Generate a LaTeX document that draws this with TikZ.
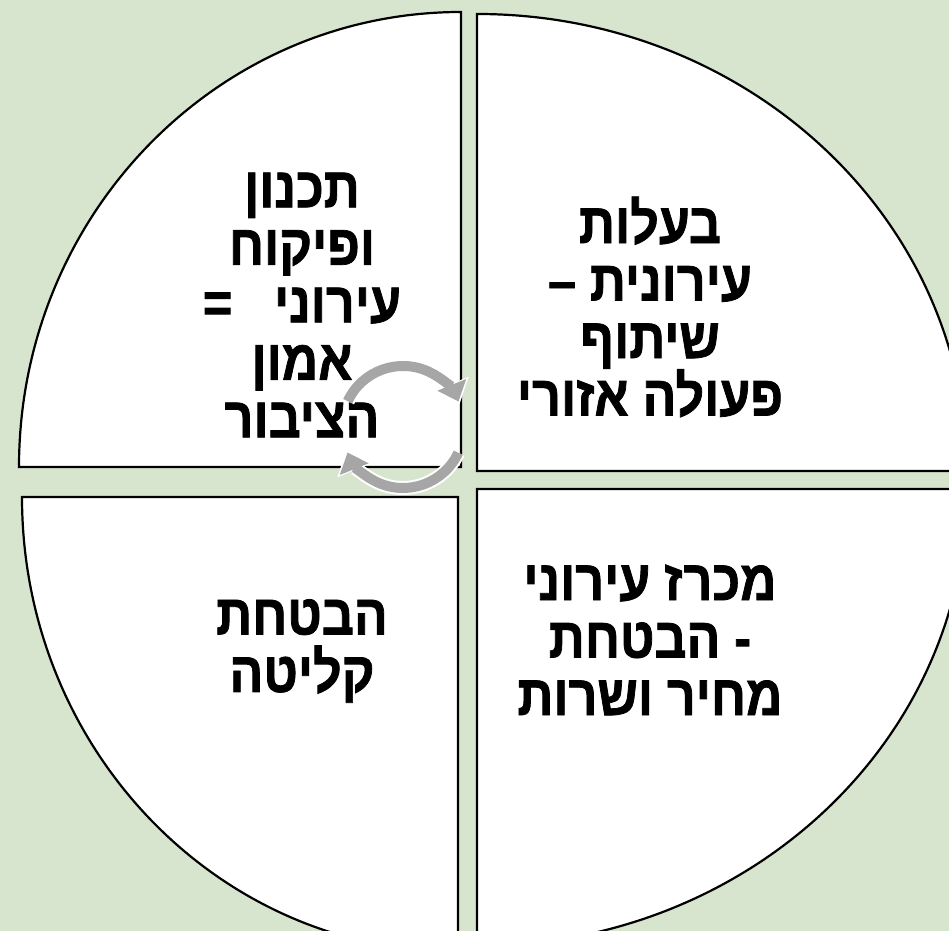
\documentclass[tikz,border=0pt]{standalone}
\usepackage{fontspec}
\setmainfont{Liberation Sans}
\newfontfamily\hebfont[Script=Hebrew, FakeStretch=0.88, FakeBold=1.3]{Liberation Sans}
\TeXXeTstate=1
\usetikzlibrary{arrows.meta}
\definecolor{sage}{RGB}{215,228,206}
\definecolor{cycgray}{RGB}{166,166,166}

\begin{document}
\begin{tikzpicture}[
  x=0.5pt, y=0.5pt,
  quad/.style ={draw=black, fill=white, line width=1.1pt, line join=miter},
  label/.style={align=center, font=\hebfont\bfseries\fontsize{28.5}{28.75}\selectfont,
                inner sep=0pt},
  ringw/.style={draw=white, line width=7pt,
                -{Triangle[width=18pt, length=11pt]}},
  ring/.style ={draw=cycgray, line width=5pt, shorten >=1.4pt,
                -{Triangle[width=15pt, length=9pt]}},
]

% ---- frame ----
\useasboundingbox (0,0) rectangle (949,931);
\clip (0,0) rectangle (949,931);
\fill[sage] (0,0) rectangle (949,931);

% ---- quadrants ----
\draw[quad] (461,464) -- (461,919)
  arc[start angle=90, end angle=180, x radius=442, y radius=455] -- cycle;
\draw[quad] (477,460) -- (477,917)
  arc[start angle=90, end angle=0, x radius=490, y radius=457] -- cycle;
\draw[quad] (477,442) -- (967,442)
  arc[start angle=0, end angle=-90, x radius=490, y radius=457] -- cycle;
\draw[quad] (458,434) -- (22,434)
  arc[start angle=180, end angle=270, x radius=436, y radius=455] -- cycle;

% ---- labels ----
\node[label] (plan) at (302,626)
  {\beginR תכנון\endR\\ \beginR ופיקוח\endR\\ \beginR עירוני \ \ =\endR\\
   \beginR אמון\endR\\ \beginR הציבור\endR};
\node[label] (own)  at (650,624)
  {\beginR בעלות\endR\\ \beginR עירונית –\endR\\ \beginR שיתוף\endR\\
   \beginR פעולה אזורי\endR};
\node[label] (bid)  at (650,291)
  {\beginR מכרז עירוני\endR\\ \beginR - הבטחת\endR\\ \beginR מחיר ושרות\endR};
\node[label] (abs)  at (302,280)
  {\beginR הבטחת\endR\\ \beginR קליטה\endR};

% ---- cycle arrows ----
\coordinate (cyc) at (403,504);
\foreach \a/\b in {155/22, -25/-158}{
  \draw[ringw] ([shift={(\a:61)}]cyc) arc[start angle=\a, end angle=\b, radius=61];
  \draw[ring]  ([shift={(\a:61)}]cyc) arc[start angle=\a, end angle=\b, radius=61];
}

\end{tikzpicture}
\end{document}
